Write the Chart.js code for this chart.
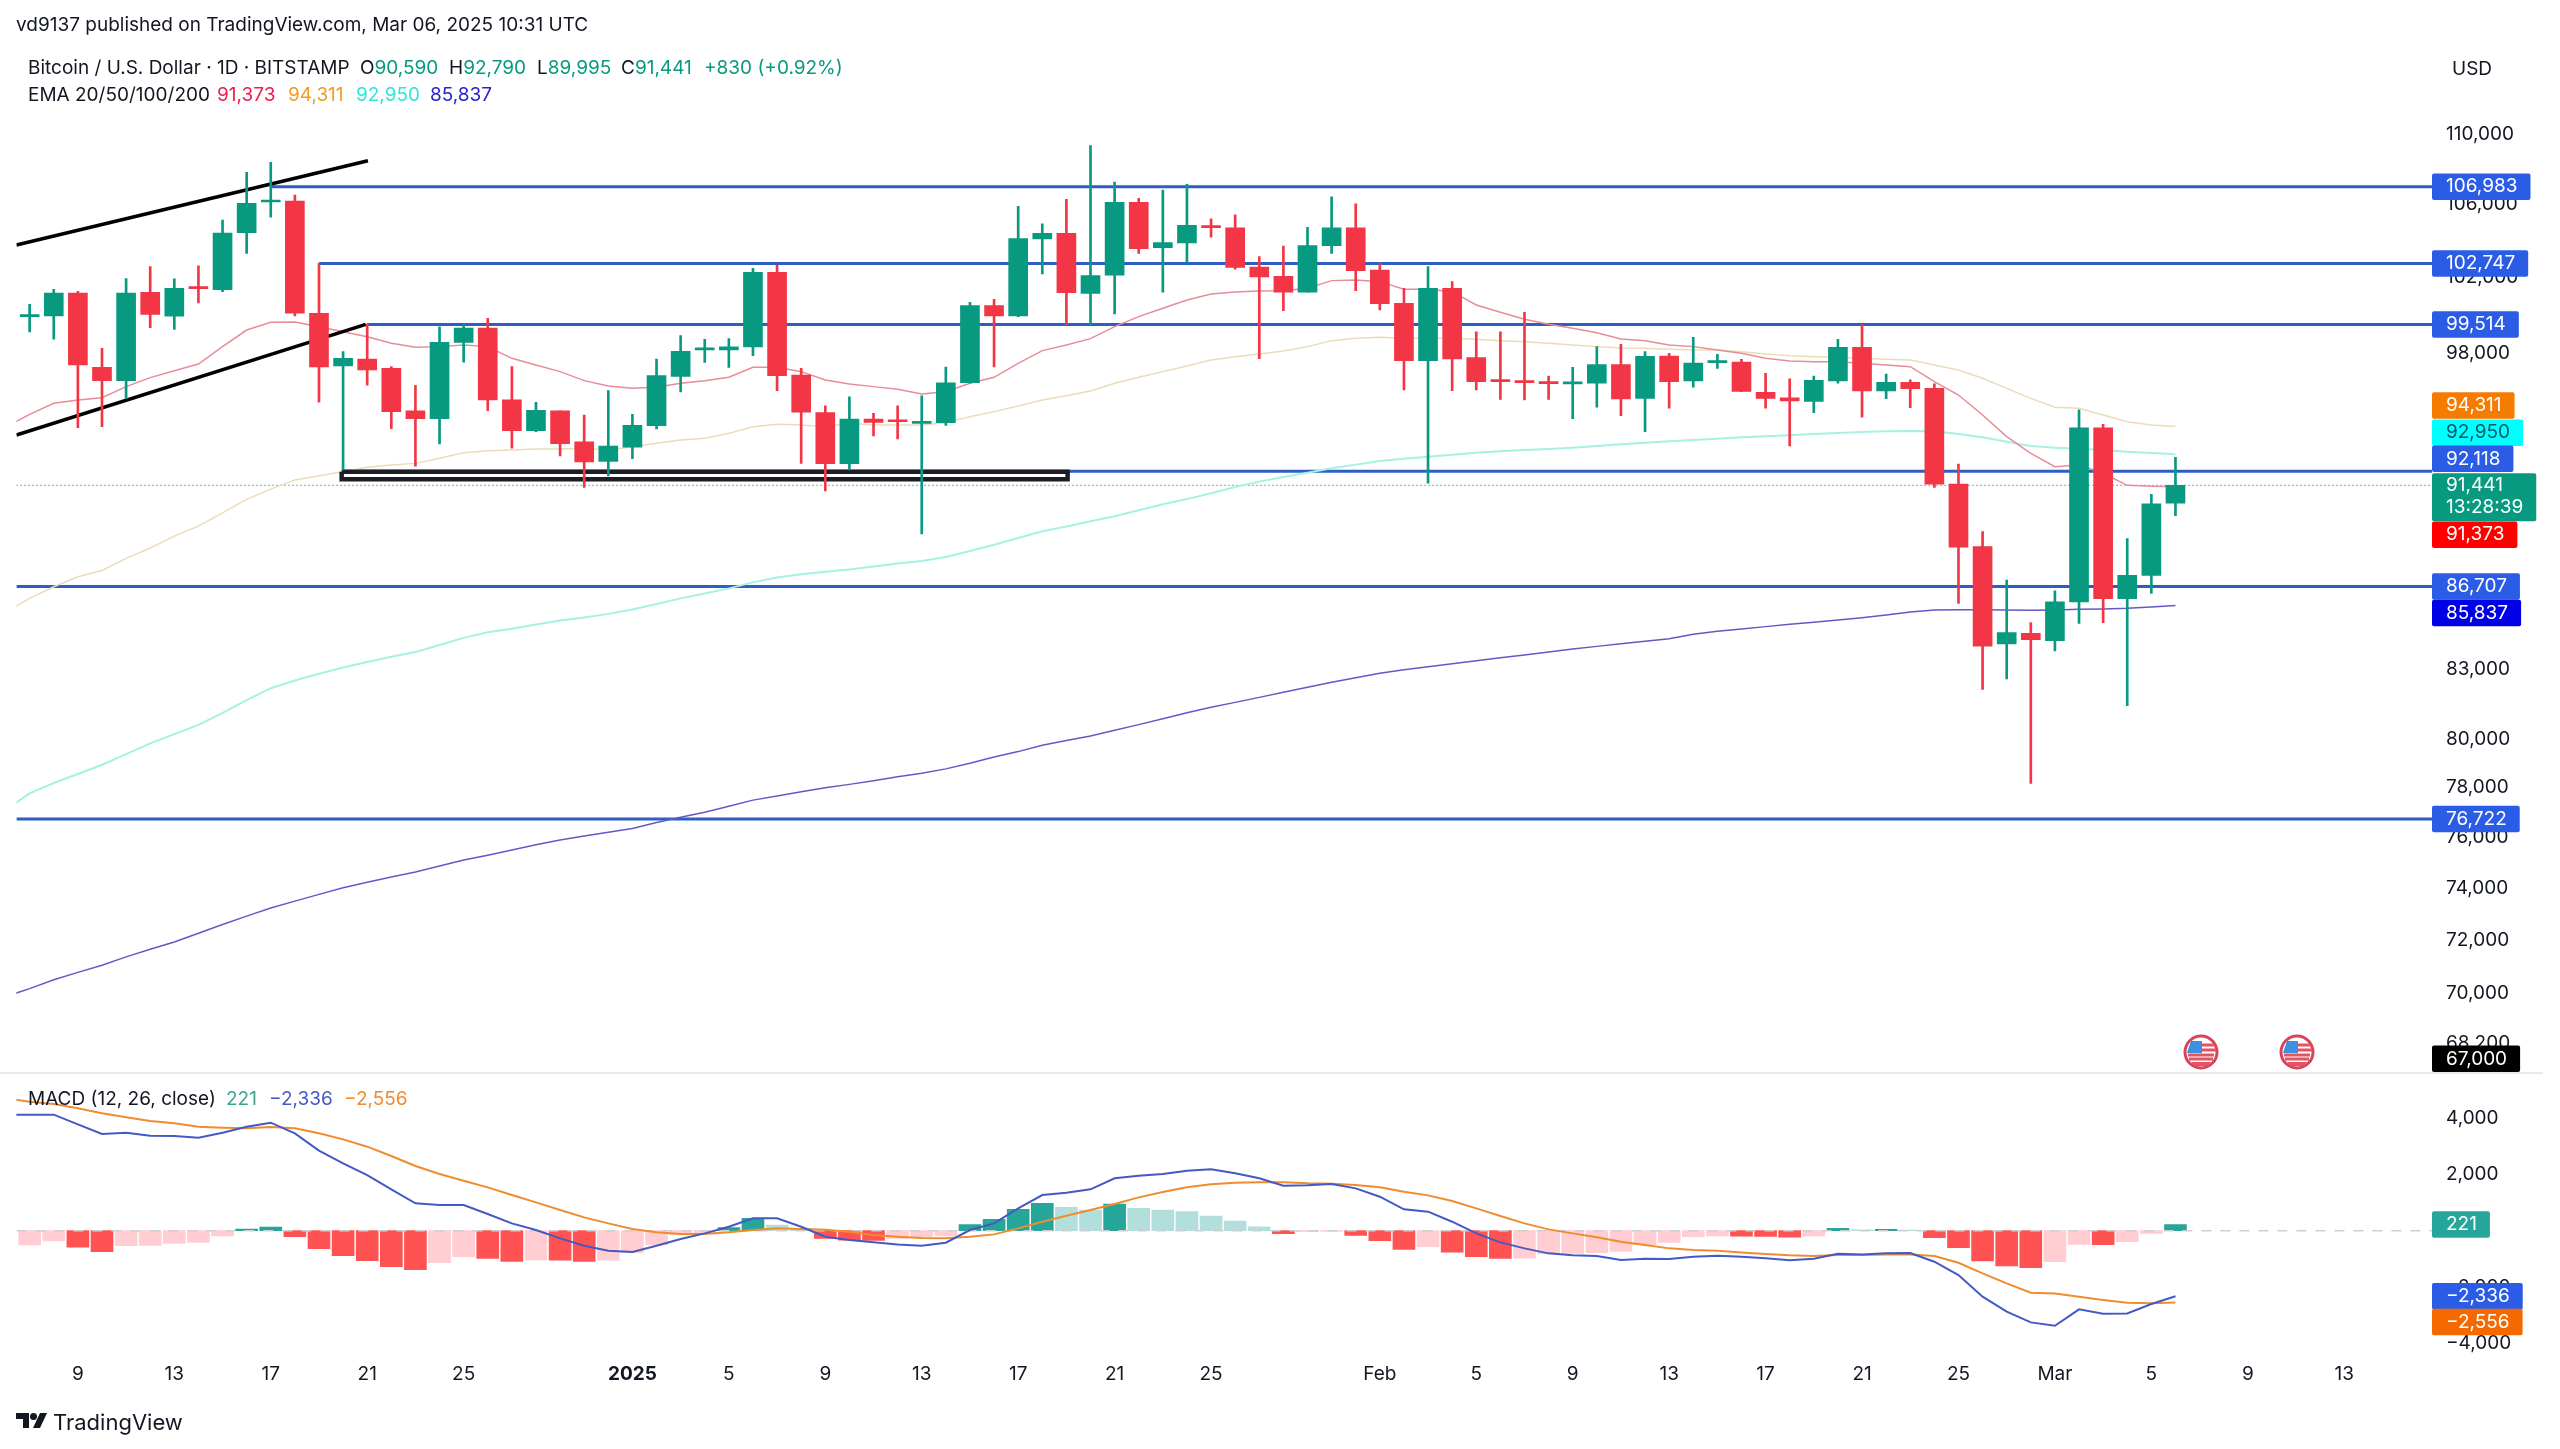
<!DOCTYPE html>
<html>
<head>
<meta charset="utf-8">
<title>BTC/USD</title>
<script src="https://cdn.jsdelivr.net/npm/chart.js@4"></script>
<style>
  html, body { margin: 0; background: #fff; }
  body { position: relative; width: 2560px; height: 1449px; overflow: hidden; font-family: Inter, sans-serif; color: #131722; }
  canvas { position: absolute; left: 0; }
  #price { top: 0; }
  #macd { top: 1074px; }
  .txt { position: absolute; white-space: nowrap; font-size: 19px; line-height: 24px; }
  .up { color: #089981; }
  #sep { position: absolute; left: 0; top: 1072px; width: 2543px; height: 2px; background: #e9e9ea; }
  svg { position: absolute; }
</style>
</head>
<body>
<canvas id="price" width="2560" height="1073"></canvas>
<canvas id="macd" width="2560" height="375"></canvas>
<div id="sep"></div>

<div class="txt" style="left:16px;top:13px">vd9137 published on TradingView.com, Mar 06, 2025 10:31 UTC</div>
<div class="txt" style="left:28px;top:56px">Bitcoin / U.S. Dollar · 1D · BITSTAMP</div>
<div class="txt" style="left:360px;top:56px">O<span class="up">90,590</span></div>
<div class="txt" style="left:449px;top:56px">H<span class="up">92,790</span></div>
<div class="txt" style="left:537px;top:56px">L<span class="up">89,995</span></div>
<div class="txt" style="left:621px;top:56px">C<span class="up">91,441</span></div>
<div class="txt up" style="left:704px;top:56px">+830 (+0.92%)</div>
<div class="txt" style="left:28px;top:83px">EMA 20/50/100/200</div>
<div class="txt" style="left:217px;top:83px;color:#e91e4d">91,373</div>
<div class="txt" style="left:288px;top:83px;color:#f59a23">94,311</div>
<div class="txt" style="left:356px;top:83px;color:#2ee6dc">92,950</div>
<div class="txt" style="left:430px;top:83px;color:#2a22c8">85,837</div>
<div class="txt" style="left:2452px;top:57px">USD</div>
<div class="txt" style="left:28px;top:1087px">MACD (12, 26, close)</div>
<div class="txt" style="left:226px;top:1087px;color:#3aa58f">221</div>
<div class="txt" style="left:269px;top:1087px;color:#4359c4">−2,336</div>
<div class="txt" style="left:344px;top:1087px;color:#f08c2e">−2,556</div>

<svg style="left:16px;top:1413px" width="31" height="15" viewBox="0 0 31 15">
  <path d="M0 0h13v15H7V6H0z" fill="#131722"/><circle cx="17.5" cy="3.5" r="3.5" fill="#131722"/><path d="M24 0h7l-7 15h-7z" fill="#131722"/>
</svg>
<div class="txt" style="left:53px;top:1409px;font-size:22px;line-height:26px">TradingView</div>

<svg style="left:2183px;top:1034px" width="36" height="36" viewBox="0 0 36 36">
  <circle cx="18" cy="18" r="16" fill="#fff" stroke="#d9445a" stroke-width="3"/>
  <path d="M5 21h26M6 25h24" stroke="#e05560" stroke-width="3"/><path d="M19 11h13M19 16h14" stroke="#e05560" stroke-width="3"/>
  <path d="M8 7h11v12H4z" fill="#3d8fe0"/><path d="M8 28h20l-3 4H11z" fill="#e05560"/>
</svg>
<svg style="left:2279px;top:1034px" width="36" height="36" viewBox="0 0 36 36">
  <circle cx="18" cy="18" r="16" fill="#fff" stroke="#d9445a" stroke-width="3"/>
  <path d="M5 21h26M6 25h24" stroke="#e05560" stroke-width="3"/><path d="M19 11h13M19 16h14" stroke="#e05560" stroke-width="3"/>
  <path d="M8 7h11v12H4z" fill="#3d8fe0"/><path d="M8 28h20l-3 4H11z" fill="#e05560"/>
</svg>

<script>
// daily candles, 7 Dec 2024 to 6 Mar 2025
const opens = [
  99920,99960,101170,97290,96610,101200,99940,101470,101350,104430,
  106130,106180,100100,97360,97720,97240,95090,94700,98580,99320,
  95640,94100,95090,93550,92600,93290,94350,96830,98190,98190,
  98340,102280,96900,95000,92490,94680,94600,94470,94500,96510,
  100500,99960,104090,104390,101150,102120,106110,103610,103870,104820,
  104700,102560,102060,101220,103720,104700,102400,100620,97630,101420,
  97790,96630,96580,96530,96450,96480,97430,95720,97870,96600,
  97530,97560,96020,95750,95570,96600,98320,96090,96530,96220,
  91500,88540,84130,84590,84270,86000,94250,86150,87210,90590];
const highs = [
  100570,101370,101260,98270,101940,102580,101920,102620,105130,107800,
  108360,106520,102760,98100,99530,97330,96380,99390,99520,99830,
  97330,95520,95090,94880,96110,94920,97720,98930,98740,98770,
  102490,102670,97240,95340,95800,94970,95340,95840,97310,100680,
  100830,105890,104910,106280,109320,107250,106330,106800,107120,105190,
  105410,103120,103700,104720,106420,106020,102760,101420,102580,101780,
  99130,99130,100150,96850,97290,98360,98480,98100,98010,98840,
  97960,97700,96990,96700,96850,98740,99510,96950,96650,96450,
  92470,89240,87000,85070,86510,95140,94420,88910,91010,92790];
const lows = [
  99120,98740,94250,94300,95720,99340,99250,100640,101240,103300,
  105280,99960,95520,92180,96380,94200,92370,93450,97560,95100,
  93240,94050,92860,91340,91890,92730,94190,96040,97550,97290,
  97890,96110,92500,91170,92180,93840,93700,89130,94370,96480,
  97310,99920,102190,99480,99480,100060,103300,101220,102810,104180,
  102440,97730,100240,101220,103300,101290,100270,96140,91540,96110,
  96140,95670,95640,95670,94700,95270,94850,94060,95220,96280,
  97240,96050,95220,93350,95000,96480,94770,95700,95250,91340,
  85940,82140,82590,78180,83810,85040,85070,81440,86390,89995];
const closes = [
  99960,101170,97410,96610,101170,100030,101420,101400,104410,106050,
  106180,100100,97310,97750,97160,95050,94700,98580,99320,95640,
  94100,95120,93470,92570,93350,94370,96870,98120,98250,98340,
  102280,96870,95020,92490,94680,94510,94550,94520,96500,100500,
  99960,104100,104390,101190,102100,106110,103560,103890,104830,104700,
  102540,102030,101220,103720,104700,102370,100610,97630,101420,97720,
  96560,96560,96510,96460,96500,97430,95690,97860,96560,97510,
  97600,96070,95720,95590,96630,98320,96090,96530,96210,91500,
  88510,84030,84630,84310,86010,94250,86150,87210,90560,91441];

// the indicator lines start one day earlier, so they run off the left edge
const ema20 = [
  94285,94918,95468,95635,95751,96310,96766,97122,97461,98357,
  99219,99622,99640,99394,99133,98874,98529,98323,98357,98443,
  98357,97754,97410,97072,96614,96343,96224,96275,96478,96614,
  96783,97292,97292,97072,96648,96445,96310,96174,95934,96051,
  96478,96783,97495,98150,98443,98771,99394,99920,100359,100798,
  101116,101223,101276,101294,101419,101830,101865,101776,101366,101366,
  101241,100534,100149,99780,99517,99307,99081,98753,98667,98443,
  98357,98185,98012,97754,97616,97581,97581,97495,97410,97326,
  96563,95885,94885,93810,92992,92340,92420,92019,91440,91400,
  91373];
const ema50 = [
  85549,86163,86692,87146,87434,87993,88473,89029,89500,90125,
  90770,91255,91700,91900,92099,92308,92421,92501,92746,93024,
  93122,93155,93204,93204,93237,93155,93319,93483,93646,93728,
  93973,94303,94420,94387,94303,94470,94387,94387,94387,94503,
  94802,95052,95335,95635,95852,96089,96478,96783,97072,97360,
  97667,97840,97978,98133,98357,98667,98788,98840,98788,98788,
  98788,98736,98667,98615,98529,98443,98357,98288,98271,98219,
  98185,98185,98098,97978,97892,97840,97806,97754,97702,97667,
  97410,97156,96732,96224,95718,95269,95219,94885,94552,94387,
  94311];
const ema100 = [
  77090,77769,78194,78566,78945,79387,79836,80230,80620,81125,
  81672,82189,82524,82815,83090,83329,83555,83764,84075,84392,
  84638,84803,84986,85169,85298,85464,85665,85911,86163,86383,
  86617,86892,87112,87264,87383,87484,87622,87755,87874,88062,
  88333,88629,88944,89255,89481,89725,89965,90248,90530,90780,
  91059,91361,91617,91843,92051,92262,92440,92618,92730,92826,
  92923,93020,93092,93150,93199,93264,93348,93433,93512,93582,
  93646,93711,93780,93830,93880,93944,93993,94043,94078,94092,
  94078,93944,93780,93562,93348,93264,93214,93150,93068,93005,
  92950];
const ema200 = [
  69890,70180,70507,70782,71045,71362,71648,71920,72256,72585,
  72907,73216,73484,73745,74000,74220,74426,74615,74850,75090,
  75281,75485,75694,75887,76048,76197,76346,76588,76793,77002,
  77239,77492,77661,77831,77996,78136,78289,78453,78594,78775,
  79007,79267,79494,79760,79963,80150,80391,80629,80883,81137,
  81366,81578,81793,82010,82228,82446,82646,82838,82994,83124,
  83255,83386,83517,83634,83764,83896,84016,84133,84240,84356,
  84553,84687,84790,84893,84999,85089,85192,85294,85415,85549,
  85638,85652,85652,85638,85625,85638,85669,85683,85714,85772,
  85837];
const macdLine = [
  4131,4131,4131,3787,3442,3490,3383,3371,3312,3490,
  3703,3846,3466,2849,2398,1982,1472,973,914,914,
  594,261,24,-273,-534,-712,-760,-534,-297,-95,
  142,439,439,142,-214,-332,-415,-487,-534,-427,
  24,261,795,1270,1353,1472,1864,1959,2018,2137,
  2184,2042,1864,1602,1614,1662,1507,1211,760,677,
  320,-95,-415,-629,-807,-878,-902,-1045,-997,-1009,
  -926,-890,-926,-985,-1056,-997,-819,-843,-807,-795,
  -1104,-1579,-2350,-2884,-3264,-3383,-2801,-2956,-2944,-2611,
  -2336];
const signalLine = [
  4712,4594,4511,4356,4178,4036,3905,3822,3703,3668,
  3644,3692,3644,3466,3252,2991,2659,2303,2018,1781,
  1543,1270,1009,736,475,261,59,-59,-119,-119,
  -59,24,83,59,36,-36,-154,-214,-261,-273,
  -214,-131,83,320,534,736,950,1187,1377,1543,
  1650,1709,1721,1721,1686,1674,1626,1543,1389,1258,
  1056,795,522,261,47,-95,-237,-392,-510,-629,
  -688,-712,-772,-831,-878,-902,-867,-867,-843,-843,
  -902,-1140,-1519,-1875,-2208,-2232,-2350,-2469,-2564,-2587,
  -2556];
const histogram = [
  -510,-368,-582,-748,-534,-525,-451,-415,-190,59,
  130,-214,-641,-890,-1068,-1282,-1389,-1140,-926,-985,
  -1092,-1040,-1045,-1092,-1045,-783,-510,-154,-95,107,
  439,202,83,-273,-340,-344,-273,-214,-190,214,
  404,760,973,831,736,950,795,736,677,522,
  344,142,-107,-36,-24,-166,-356,-665,-570,-760,
  -926,-985,-980,-831,-807,-783,-736,-500,-415,-214,
  -190,-195,-200,-226,-190,83,30,47,20,-249,
  -605,-1080,-1258,-1318,-1104,-487,-498,-392,-95,221];

// support and resistance levels and where each one starts (bar number)
const levels = [106983, 102747, 99514, 92118, 86707, 76722];
const levelStarts = [10, 12, 14, 13, -0.55, -0.55];
const lastPrice = 91441;

const priceTicks = [110000, 106000, 102000, 98000, 83000, 80000, 78000, 76000, 74000, 72000, 70000, 68200];
const macdTicks = [4000, 2000, -2000, -4000];
const dateTickBars = [2, 6, 10, 14, 18, 25, 29, 33, 37, 41, 45, 49, 56, 60, 64, 68, 72, 76, 80, 84, 88, 92, 96];
const dateTickLabels = ['9', '13', '17', '21', '25', '2025', '5', '9', '13', '17', '21', '25', 'Feb', '5', '9', '13', '17', '21', '25', 'Mar', '5', '9', '13'];

const channelTop = [{ x: -0.55, y: 103757 }, { x: 14.03, y: 108458 }];
const channelBottom = [{ x: -0.55, y: 93892 }, { x: 13.94, y: 99512 }];
const rangeBox = [{ x: 12.94, y: 92099 }, { x: 43.05, y: 92099 }, { x: 43.05, y: 91728 }, { x: 12.94, y: 91728 }, { x: 12.94, y: 92099 }];

const xMin = -0.55, xMax = 99.64;
const GREEN = '#089981', RED = '#f23645', BLUE = '#2b5ce6', LEVEL_BLUE = '#2e5fc0';

const fmt = v => (v < 0 ? '−' : '') + Math.abs(v).toLocaleString('en-US');
const bars = opens.map((o, i) => i);
const candleColors = opens.map((o, i) => closes[i] >= o ? GREEN : RED);
const lineFrom = values => values.map((v, i) => ({ x: i - 1, y: v }));

function lineSet(data, color, width, order, dash) {
  return { type: 'line', data, borderColor: color, borderWidth: width, pointRadius: 0, tension: 0, order, borderDash: dash || [] };
}

// the axes sit in a fixed gutter; no extra room for labels near the pane edges
function fixAxisWidth(s) {
  s.width = 128;
  s.paddingTop = 0;
  s.paddingBottom = 0;
}

// coloured value tags on the price axis, drawn over the tick labels
const tagPlugin = {
  id: 'tags',
  afterDraw(chart, args, opts) {
    const ctx = chart.ctx, scale = chart.scales.y, left = chart.chartArea.right;
    ctx.save();
    ctx.font = '19px Inter, sans-serif';
    ctx.textBaseline = 'middle';
    opts.items.forEach(t => {
      const y = scale.getPixelForValue(t.value) + (t.dy || 0);
      const lines = t.lines || [fmt(t.value)];
      const h = lines.length > 1 ? 48 : 26.5;
      const w = Math.max(...lines.map(s => ctx.measureText(s).width)) + 27;
      ctx.fillStyle = t.bg;
      ctx.beginPath();
      ctx.roundRect(left, y - h / 2, w, h, 2);
      ctx.fill();
      ctx.fillStyle = t.color || '#fff';
      lines.forEach((s, k) => ctx.fillText(s, left + 14, y + (lines.length > 1 ? (k ? 10 : -12) : 0)));
    });
    ctx.restore();
  }
};

const priceSets = [
  { label: 'body', data: bars.map(i => ({ x: i, y: [opens[i], closes[i]] })), backgroundColor: candleColors, barThickness: 19, minBarLength: 2, grouped: false, order: 0 },
  { label: 'wick', data: bars.map(i => ({ x: i, y: [lows[i], highs[i]] })), backgroundColor: candleColors, barThickness: 2, grouped: false, order: 1 },
  lineSet(rangeBox, '#1c1d26', 4.5, 2),
  lineSet(channelTop, '#000', 3.5, 3),
  lineSet(channelBottom, '#000', 3.5, 3),
  lineSet(lineFrom(ema20), '#e88c98', 1.5, 4),
  lineSet(lineFrom(ema50), '#ebdcb8', 1.5, 4),
  lineSet(lineFrom(ema100), '#a5f2e4', 2, 4),
  lineSet(lineFrom(ema200), '#6359c6', 1.5, 4),
  ...levels.map((v, k) => lineSet([{ x: levelStarts[k], y: v }, { x: xMax, y: v }], LEVEL_BLUE, 3, 5)),
  lineSet([{ x: xMin, y: lastPrice }, { x: xMax, y: lastPrice }], '#5c8f88', 1, 6, [1.5, 2.5])
];

new Chart(document.getElementById('price'), {
  type: 'bar',
  data: { datasets: priceSets },
  plugins: [tagPlugin],
  options: {
    responsive: false,
    animation: false,
    layout: { padding: { top: 120, left: 16.4 } },
    plugins: {
      legend: { display: false },
      tooltip: { enabled: false },
      tags: {
        items: [
          { value: 106983, bg: BLUE },
          { value: 102747, bg: BLUE },
          { value: 99514, bg: BLUE },
          { value: 94311, bg: '#f57c00', dy: -21 },
          { value: 92950, bg: '#00ffff', color: '#0b5a66', dy: -21.5 },
          { value: 92118, bg: BLUE, dy: -12.4 },
          { value: 91441, bg: GREEN, dy: 12, lines: ['91,441', '13:28:39'] },
          { value: 91373, bg: '#ff0000', dy: 48 },
          { value: 86707, bg: BLUE },
          { value: 85837, bg: '#0000e6', dy: 7.5 },
          { value: 76722, bg: BLUE },
          { value: 67000, bg: '#000', dy: -18 }
        ]
      }
    },
    scales: {
      x: { type: 'linear', display: false, offset: false, min: xMin, max: xMax, grid: { display: false } },
      y: {
        type: 'logarithmic',
        position: 'right',
        min: 67135,
        max: 110803,
        grid: { display: false, drawTicks: false },
        border: { display: false },
        afterFit: fixAxisWidth,
        afterBuildTicks: s => { s.ticks = priceTicks.map(v => ({ value: v })); },
        ticks: { autoSkip: false, crossAlign: 'near', padding: 14, color: '#131722', font: { family: 'Inter', size: 19 }, callback: v => fmt(v) }
      }
    }
  }
});

const histColors = histogram.map((v, i) => {
  const prev = i ? histogram[i - 1] : v;
  if (v >= 0) return v >= prev ? '#26a69a' : '#b2dfdb';
  return v < prev ? '#ff5252' : '#ffcdd2';
});

new Chart(document.getElementById('macd'), {
  type: 'bar',
  data: {
    datasets: [
      lineSet(lineFrom(macdLine), '#4359c4', 2, 0),
      lineSet(lineFrom(signalLine), '#f08c2e', 2, 0),
      lineSet([{ x: xMin, y: 0 }, { x: xMax, y: 0 }], '#cfcfcf', 1.5, 1, [10, 9]),
      { label: 'histogram', data: bars.map(i => ({ x: i, y: histogram[i] })), backgroundColor: histColors, barThickness: 22, grouped: false, order: 2 }
    ]
  },
  plugins: [tagPlugin],
  options: {
    responsive: false,
    animation: false,
    layout: { padding: { top: 1, left: 16.4 } },
    plugins: {
      legend: { display: false },
      tooltip: { enabled: false },
      tags: {
        items: [
          { value: 221, bg: '#26a69a' },
          { value: -2336, bg: BLUE },
          { value: -2556, bg: '#f56a00', dy: 19.5 }
        ]
      }
    },
    scales: {
      x: {
        type: 'linear',
        offset: false,
        min: xMin,
        max: xMax,
        grid: { display: false, drawTicks: false },
        border: { display: false },
        afterFit: s => { s.height = 94; },
        afterBuildTicks: s => { s.ticks = dateTickBars.map(v => ({ value: v })); },
        ticks: {
          autoSkip: false,
          maxRotation: 0,
          padding: 8,
          color: '#131722',
          font: c => ({ family: 'Inter', size: 19, weight: c.tick && c.tick.value === 25 ? 'bold' : 'normal' }),
          callback: v => dateTickLabels[dateTickBars.indexOf(v)]
        }
      },
      y: {
        position: 'right',
        min: -4425,
        max: 5543,
        beginAtZero: false,
        grid: { display: false, drawTicks: false },
        border: { display: false },
        afterFit: fixAxisWidth,
        afterBuildTicks: s => { s.ticks = macdTicks.map(v => ({ value: v })); },
        ticks: { autoSkip: false, crossAlign: 'near', padding: 14, color: '#131722', font: { family: 'Inter', size: 19 }, callback: v => fmt(v) }
      }
    }
  }
});
</script>
</body>
</html>
